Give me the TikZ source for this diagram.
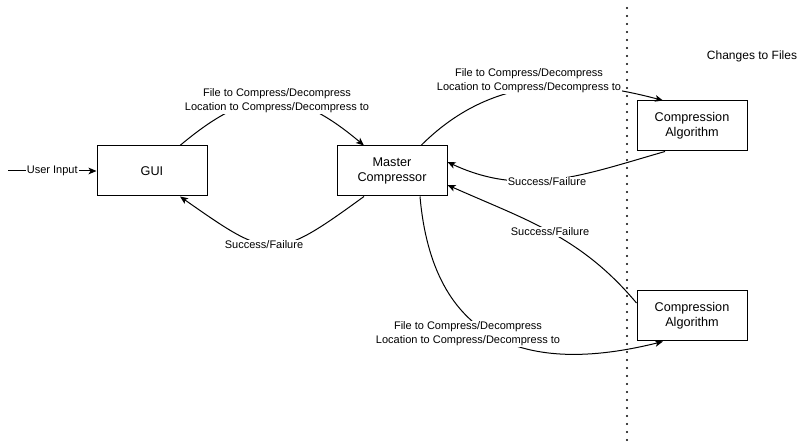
\documentclass[tikz,border=0pt]{standalone}
\usepackage{fontspec}
\setmainfont{Liberation Sans}
\usetikzlibrary{calc}
\usetikzlibrary{arrows.meta}

\begin{document}
\begin{tikzpicture}[x=0.75pt, y=0.75pt,
    box/.style={draw, line width=0.75pt, minimum width=82.5pt, minimum height=37.5pt, align=center, font=\fontsize{9.5}{11}\selectfont},
    flow/.style={line width=0.75pt, -{Stealth[length=6pt, width=5pt, inset=1.5pt]}},
    lbl/.style={fill=white, inner sep=1pt, align=center, font=\fontsize{8.25}{10.5}\selectfont}]
    \useasboundingbox (0, 0) rectangle (808, 443);
    \coordinate (divtop) at (627, 435);
    \coordinate (divbot) at (627, 3);
    \draw[line width=1.8pt, dash pattern=on 0pt off 6pt, line cap=round] (divtop) -- (divbot);
    \node[font=\fontsize{9}{10.5}\selectfont] (zone) at (752, 387) {Changes to Files};
    \node[box] (gui) at (152, 272) {GUI};
    \node[box] (master) at (392, 272) {Master\\Compressor};
    \node[box] (algoA) at (692, 317) {Compression\\Algorithm};
    \node[box] (algoB) at (692, 127) {Compression\\Algorithm};
    \coordinate (input) at (8, 272);
    \draw[flow] (input) -- (gui) node[lbl, midway] (userin) {User Input};
    \draw[flow] ($(gui.north)+(28, 0)$) to[out=40, in=140, looseness=1.3] ($(master.north)+(-28, 0)$);
    \draw[flow] ($(master.south)+(-28, 0)$) to[out=-144, in=-35, looseness=1.55] ($(gui.south)+(28, 0)$);
    \draw[flow] ($(master.north)+(29, 0)$) to[out=45, in=165] ($(algoA.north)+(-29, 0)$);
    \draw[flow] ($(algoA.south)+(-27, 0)$) to[out=196, in=-25] ($(master.east)+(0, 9)$);
    \draw[flow] ($(algoB.west)+(0, 13)$) to[out=130, in=-24] ($(master.east)+(0, -14)$);
    \draw[flow] ($(master.south)+(28, 0)$) to[out=-85, in=194, looseness=1.3] ($(algoB.south)+(-29, 0)$);
    \node[lbl] (sendA) at (277, 342) {File to Compress/Decompress\\Location to Compress/Decompress to};
    \node[lbl] (replyA) at (264, 198) {Success/Failure};
    \node[lbl] (sendB) at (529, 362) {File to Compress/Decompress\\Location to Compress/Decompress to};
    \node[lbl] (replyB) at (547, 261) {Success/Failure};
    \node[lbl] (replyC) at (550, 211) {Success/Failure};
    \node[lbl] (sendC) at (468, 109) {File to Compress/Decompress\\Location to Compress/Decompress to};
\end{tikzpicture}
\end{document}
